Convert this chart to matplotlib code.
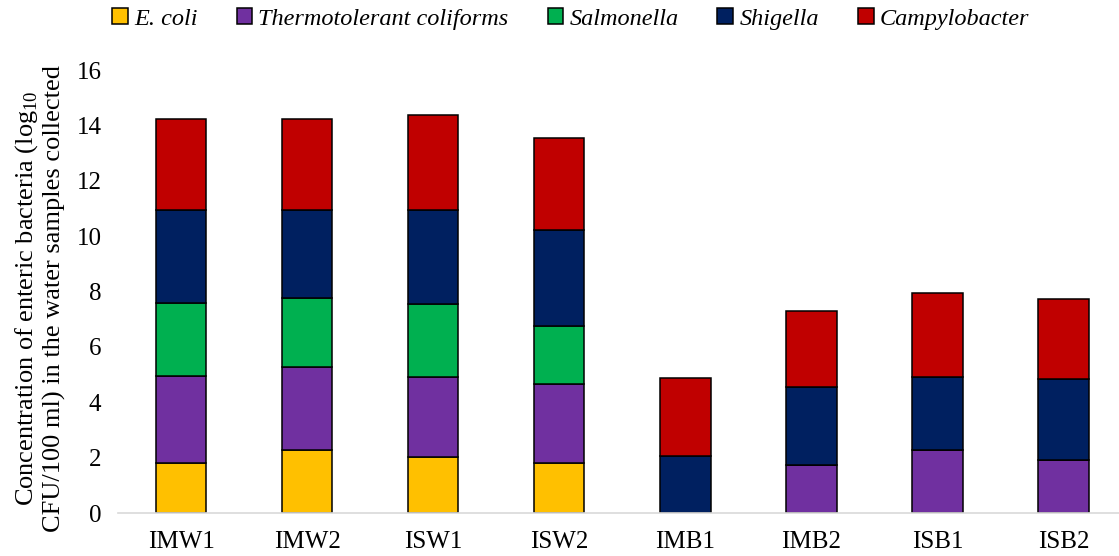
import numpy as np
import matplotlib.pyplot as plt

plt.rcParams['font.family'] = ['Liberation Serif', 'DejaVu Serif']
plt.rcParams['mathtext.fontset'] = 'custom'
plt.rcParams['mathtext.rm'] = 'Liberation Serif'

sites = ['IMW1', 'IMW2', 'ISW1', 'ISW2', 'IMB1', 'IMB2', 'ISB1', 'ISB2']
ecoli = [1.81, 2.26, 2.02, 1.81, 0, 0, 0, 0]
thermo = [3.15, 3.03, 2.91, 2.84, 0, 1.75, 2.26, 1.90]
salmonella = [2.64, 2.47, 2.61, 2.12, 0, 0, 0, 0]
shigella = [3.33, 3.20, 3.39, 3.45, 2.06, 2.80, 2.67, 2.94]
campylobacter = [3.32, 3.26, 3.43, 3.34, 2.82, 2.73, 3.00, 2.90]

series = [
    ('E. coli', ecoli, '#FFC000'),
    ('Thermotolerant coliforms', thermo, '#7030A0'),
    ('Salmonella', salmonella, '#00B050'),
    ('Shigella', shigella, '#002060'),
    ('Campylobacter', campylobacter, '#C00000'),
]

fig = plt.figure(figsize=(11.19, 5.56), dpi=100)
ax = fig.add_axes([0.1055, 0.0773, 0.8945, 0.7967])

x = np.arange(len(sites))
bottom = np.zeros(len(sites))
for name, vals, col in series:
    vals = np.array(vals)
    ax.bar(x, vals, 0.4, bottom=bottom, color=col, edgecolor='black',
           linewidth=1.1, label=name)
    bottom += vals

ax.set_xlim(-0.5, 7.44)
ax.set_ylim(0, 16)
ax.set_yticks(range(0, 17, 2))
ax.set_xticks(x)
ax.set_xticklabels(sites)
ax.tick_params(length=0, labelsize=18)
ax.tick_params(axis='y', pad=12)
ax.tick_params(axis='x', pad=13)
for s in ['top', 'right', 'left']:
    ax.spines[s].set_visible(False)
ax.spines['bottom'].set_color('#d9d9d9')
ax.spines['bottom'].set_linewidth(1.2)

ax.set_ylabel('Concentration of enteric bacteria (log$_{\\mathregular{10}}$\n'
              'CFU/100 ml) in the water samples collected', fontsize=19,
              linespacing=1.15)
ax.yaxis.set_label_coords(-0.052, 0.485)

leg = fig.legend(loc='center', bbox_to_anchor=(0.51, 0.966), ncol=5,
                 frameon=False, handlelength=0.65,
                 handleheight=0.65, handletextpad=0.25, columnspacing=1.6,
                 prop={'style': 'italic', 'size': 17.5})

plt.savefig('out.png', dpi=100)
